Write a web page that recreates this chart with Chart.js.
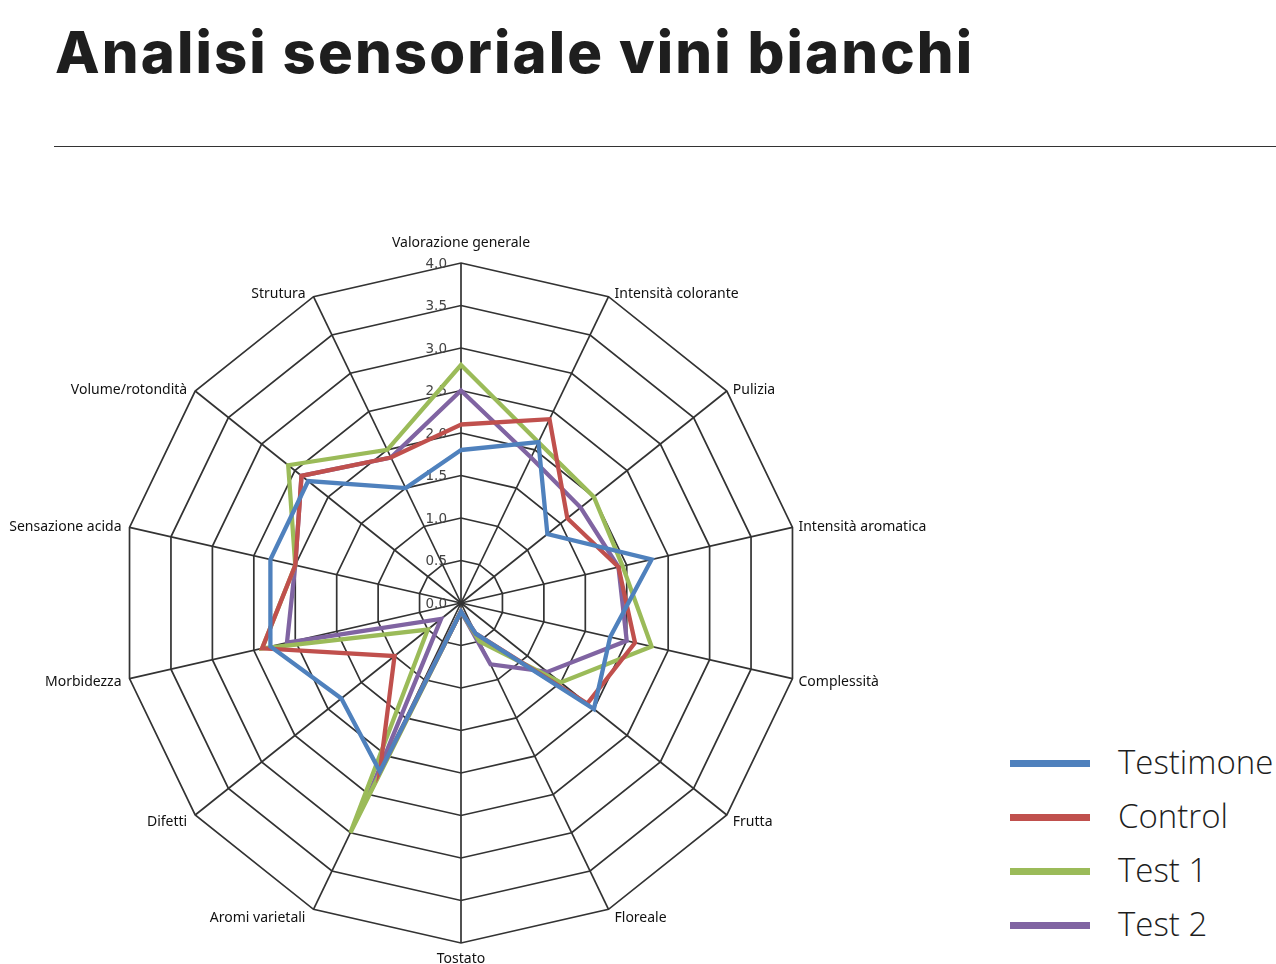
<!DOCTYPE html>
<html lang="it">
<head>
<meta charset="utf-8">
<title>Analisi sensoriale vini bianchi</title>
<script src="https://cdn.jsdelivr.net/npm/chart.js@4.4.1/dist/chart.umd.min.js"></script>
<style>
  html, body { margin: 0; padding: 0; background: #fff; overflow: hidden; }
  body { width: 1276px; height: 964px; position: relative; }
  h1 {
    position: absolute; left: 55px; top: 14px; margin: 0;
    font-family: "Inter", "Roboto", sans-serif; font-weight: 800;
    font-size: 58px; line-height: 76px; letter-spacing: 2.1px;
    color: #1e1e1e; white-space: nowrap;
  }
  .regola { position: absolute; left: 54px; top: 146px; width: 1222px; height: 0; border-top: 1px solid #333; }
  #wrap { position: absolute; left: 0; top: 200px; width: 960px; height: 764px; }
  #legenda { position: absolute; left: 1010px; top: 736px; }
  .voce { height: 54px; display: flex; align-items: center; }
  .voce span.linea { width: 80px; height: 7px; display: inline-block; }
  .voce span.testo {
    margin-left: 28px; margin-top: -4px; font-family: "Open Sans", sans-serif; font-weight: 300;
    font-size: 33px; color: #1e1e1e; white-space: nowrap;
  }
</style>
</head>
<body>
<h1>Analisi sensoriale vini bianchi</h1>
<div class="regola"></div>
<div id="wrap"><canvas id="grafico"></canvas></div>
<div id="legenda"></div>

<script>
// Categorie (in senso orario dall'alto)
const categorie = [
  "Valorazione generale", "Intensità colorante", "Pulizia", "Intensità aromatica",
  "Complessità", "Frutta", "Floreale", "Tostato", "Aromi varietali", "Difetti",
  "Morbidezza", "Sensazione acida", "Volume/rotondità", "Strutura"
];

// Valori per serie
const testimone = [1.8, 2.1, 1.3, 2.3, 1.8, 2.0, 0.4, 0.1, 2.2, 1.8, 2.3, 2.3, 2.3, 1.5];
const control   = [2.1, 2.4, 1.6, 1.9, 2.1, 1.9, 0.4, 0.1, 2.2, 1.0, 2.4, 2.0, 2.4, 1.9];
const test1     = [2.8, 2.1, 2.0, 1.95, 2.3, 1.5, 0.5, 0.1, 3.0, 0.5, 2.4, 2.0, 2.6, 2.0];
const test2     = [2.5, 1.9, 1.8, 1.9, 2.0, 1.3, 0.8, 0.1, 2.5, 0.3, 2.1, 2.0, 2.4, 1.9];

const nomiSerie = ["Testimone", "Control", "Test 1", "Test 2"];
const coloriSerie = ["#4f81bd", "#c0504d", "#9bbb59", "#8064a2"];

// Etichette della scala
const tickValori = [0, 0.5, 1, 1.5, 2, 2.5, 3, 3.5, 4];
const tickEtichette = ["0.0", "0.5", "1.0", "1.5", "2.0", "2.5", "3.0", "3.5", "4.0"];

// Etichette dei valori sull'asse verticale
const etichetteScala = {
  id: "etichetteScala",
  beforeDatasetsDraw(chart) {
    const scala = chart.scales.r;
    const ctx = chart.ctx;
    ctx.save();
    ctx.font = "13.5px 'DejaVu Sans', sans-serif";
    ctx.fillStyle = "#444";
    ctx.textAlign = "right";
    ctx.textBaseline = "middle";
    tickValori.forEach((v, i) => {
      const d = scala.getDistanceFromCenterForValue(v);
      ctx.fillText(tickEtichette[i], scala.xCenter - 14, scala.yCenter - d + 1);
    });
    ctx.restore();
  }
};

// Etichette delle categorie
const etichetteCategorie = {
  id: "etichetteCategorie",
  afterDraw(chart) {
    const scala = chart.scales.r;
    const ctx = chart.ctx;
    ctx.save();
    ctx.font = "14px 'Noto Sans', sans-serif";
    ctx.fillStyle = "#111";
    ctx.textBaseline = "middle";
    categorie.forEach((nome, i) => {
      const p = scala.getPointPosition(i, scala.drawingArea);
      const nx = (p.x - scala.xCenter) / scala.drawingArea;
      const ny = (p.y - scala.yCenter) / scala.drawingArea;
      if (Math.abs(nx) < 0.01) {
        ctx.textAlign = "center";
        ctx.fillText(nome, p.x, ny < 0 ? p.y - 20 : p.y + 16);
      } else {
        ctx.textAlign = nx > 0 ? "left" : "right";
        const y = p.y + (ny > 0 ? ny * 9 : ny * 4) + 1;
        ctx.fillText(nome, p.x + (nx > 0 ? 6 : -8), y);
      }
    });
    ctx.restore();
  }
};

const serie = [testimone, control, test1, test2];

new Chart(document.getElementById("grafico"), {
  type: "radar",
  data: {
    labels: categorie,
    datasets: serie.map((valori, i) => ({
      label: nomiSerie[i],
      data: valori,
      borderColor: coloriSerie[i],
      backgroundColor: "transparent",
      borderWidth: 4.3,
      borderJoinStyle: "miter",
      pointRadius: 0,
      fill: false,
      tension: 0
    }))
  },
  options: {
    responsive: true,
    maintainAspectRatio: false,
    animation: false,
    layout: { padding: { left: 121, top: 63, right: 159, bottom: 21 } },
    plugins: {
      legend: { display: false },
      tooltip: { enabled: false }
    },
    scales: {
      r: {
        min: 0,
        max: 4,
        ticks: { display: false, stepSize: 0.5 },
        pointLabels: { display: false },
        grid: { color: "#333", lineWidth: 1.7 },
        angleLines: { color: "#333", lineWidth: 1.7 }
      }
    }
  },
  plugins: [etichetteScala, etichetteCategorie]
});

// Legenda
const legenda = document.getElementById("legenda");
nomiSerie.forEach((nome, i) => {
  const voce = document.createElement("div");
  voce.className = "voce";
  voce.innerHTML = `<span class="linea" style="background:${coloriSerie[i]}"></span><span class="testo">${nome}</span>`;
  legenda.appendChild(voce);
});
</script>
</body>
</html>
